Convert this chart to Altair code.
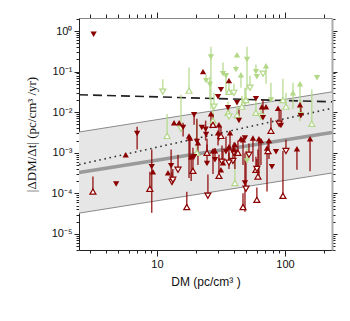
import altair as alt
import pandas as pd

# ---------------- data ----------------
red_dm = [3.2, 3.16, 4.8, 5.7, 7.0, 9.1, 9.3, 8.8, 12.2, 13.1,
          12.9, 14.6, 13.6, 14.9, 16.0, 19.5, 22.9, 18.1, 20.5, 24.0,
          26.4, 30.0, 24.6, 36.5, 31.6, 30.0, 42.2, 59.3, 131, 66.1,
          71.1, 88.2, 133, 93.0, 90.0, 17.8, 20.9, 24.6, 19.1, 30.5,
          27.4, 28.4, 31.6, 37.2, 40.6, 42.9, 39.2, 32.8, 17.1, 25.0,
          13.3, 47.0, 48.7, 49.6, 60.3, 61.5, 96.4, 72.4, 79.1, 67.3,
          77.7, 56.2, 62.6, 64.9, 75.0, 73.7, 101.8, 124, 157, 85.1,
          47.0, 45.3, 59.3, 52.3, 43.7, 30.5, 27.4, 35.9, 36.5, 39.9,
          34.6, 32.2, 36.5, 39.9, 31.6, 60.3, 18.5, 19.5, 28.4, 48.7,
          22.4, 24.2]
red_rate = [0.83, 1.1e-4, 1.7e-4, 8.9e-4, 3.0e-3, 4.5e-4, 3.4e-4, 1.3e-4, 3.2e-4, 1.9e-4,
            4.8e-4, 3.8e-4, 5.5e-3, 5.5e-3, 4.2e-3, 8.7e-3, 0.10, 2.3e-3, 1.9e-3, 3.8e-3,
            9.2e-3, 3.1e-3, 1.0e-3, 0.06, 0.036, 0.024, 0.017, 0.0216, 0.0153, 0.0137,
            0.0137, 0.0125, 0.0082, 0.0047, 0.0052, 2.6e-3, 1.77e-3, 5.4e-4, 3.6e-4, 2.7e-4,
            1.12e-3, 1.12e-3, 2.6e-3, 3.1e-3, 1.6e-3, 1.0e-3, 6.3e-4, 5.7e-4, 4.6e-5, 8.7e-5,
            2.15e-4, 4.6e-5, 1.8e-4, 1.3e-4, 6.9e-5, 2.6e-4, 8.7e-5, 1.3e-3, 4.5e-4, 7.3e-3,
            3.5e-3, 2.3e-3, 2.2e-3, 2.0e-3, 2.0e-3, 1.1e-3, 1.1e-3, 1.26e-3, 2.2e-3, 1.06e-3,
            2.1e-3, 2.2e-3, 3.8e-4, 8.9e-4, 6.2e-3, 4.9e-3, 4.9e-3, 0.0129, 1.4e-3, 1.19e-3,
            1.06e-3, 6.0e-4, 5.7e-4, 1.0e-3, 3.8e-4, 4.0e-4, 8.0e-4, 8.0e-4, 6.7e-4, 2.3e-3,
            4.2e-3, 2.8e-3]
red_lo = [None, 1.1e-4, None, None, 1.2e-3, 3.3e-5, None, 1.3e-4, None, 1.9e-4,
          2.4e-4, 3.8e-4, None, None, 2.5e-3, 4.9e-3, None, 6.7e-4, 1.9e-3, 2.0e-3,
          4.0e-3, 1.5e-3, 1.0e-3, None, None, None, None, None, None, None,
          None, None, 0.0082, 0.0047, 0.0052, 2.4e-4, 5e-4, 5.4e-4, 3.6e-4, 2.7e-4,
          3e-4, None, 2.6e-3, 1.2e-3, 4e-4, 1.0e-3, 6.3e-4, 5.7e-4, 4.6e-5, 8.7e-5,
          2.15e-4, 4.6e-5, 3.5e-5, 1.3e-4, 6.9e-5, 2.6e-4, 8.7e-5, 1.1e-4, None, 7.3e-3,
          3.5e-3, 6e-4, 2.4e-4, 5e-4, 7e-4, 1.1e-3, 1.1e-3, 3.8e-4, 3.5e-4, None,
          5e-4, None, 3.8e-4, 8.9e-4, 6.2e-3, 2e-3, 4.9e-3, None, 4e-4, None,
          1.06e-3, 6.0e-4, 5.7e-4, 1.0e-3, None, 4.0e-4, 2e-4, None, 6.7e-4, None,
          None, None]
red_hi = [None, 2.6e-4, None, None, 4.4e-3, 1.2e-3, None, 3.4e-4, None, 3.4e-4,
          1.2e-3, 8.9e-4, None, None, 5.5e-3, 8.7e-3, None, 2.3e-3, 6.9e-3, 6.2e-3,
          9.2e-3, 3.1e-3, 2.2e-3, None, None, None, None, None, None, None,
          None, None, 0.013, 0.0115, 0.0115, 2.6e-3, 1.77e-3, 1.6e-3, 1.33e-3, 9e-4,
          1.12e-3, None, 4.6e-3, 3.1e-3, 1.6e-3, 2.0e-3, 1.6e-3, 1.1e-3, 1.09e-4, 2.9e-4,
          4.0e-4, 1.0e-4, 1.0e-3, 6.7e-4, 1.4e-4, 1.2e-3, 1.1e-3, 1.3e-3, None, 0.02,
          7.3e-3, 2.3e-3, 2.2e-3, 2.0e-3, 2.0e-3, 2.0e-3, 2.1e-3, 1.26e-3, 2.2e-3, None,
          2.1e-3, None, 8e-4, 1.7e-3, 0.0125, 4.9e-3, 9e-3, None, 1.4e-3, None,
          2.5e-3, 1.5e-3, 1.0e-3, 1.8e-3, None, 7e-4, 8e-4, None, 1.3e-3, None,
          None, None]
# U = filled up, D = filled down, u = open up, d = open down
red_kind = ["D", "u", "D", "U", "D", "D", "U", "u", "U", "d",
            "D", "d", "U", "U", "D", "D", "U", "U", "D", "D",
            "U", "U", "u", "U", "D", "D", "D", "D", "U", "U",
            "U", "U", "D", "D", "d", "U", "U", "D", "u", "u",
            "U", "U", "u", "U", "U", "u", "d", "U", "u", "d",
            "d", "u", "D", "d", "u", "u", "u", "U", "D", "D",
            "u", "U", "U", "U", "U", "u", "d", "U", "U", "D",
            "U", "U", "u", "d", "D", "U", "u", "D", "U", "U",
            "D", "d", "d", "d", "U", "d", "U", "D", "D", "D",
            "D", "D"]

green_dm = [11.1, 12.0, 17.8, 24.2, 26.4, 25.9, 15.4, 20.5, 42.2, 32.8,
            34.6, 45.3, 41.4, 50.5, 59.3, 60.3, 67.3, 71.1, 53.3, 48.7,
            49.6, 77.7, 96.4, 101.8, 115.5, 131, 178, 162, 36.5, 39.9,
            27.9, 46.1, 59.3, 64.9, 35.9, 36.5, 40.6, 50.5, 27.4, 133,
            42.2]
green_rate = [0.032, 0.0026, 0.034, 0.06, 0.23, 0.048, 0.0039, 0.001, 0.26, 0.089,
              0.079, 0.084, 0.112, 0.2, 0.1, 0.075, 0.089, 0.14, 0.04, 0.018,
              0.02, 0.02, 0.02, 0.0137, 0.03, 0.05, 0.071, 0.0052, 0.032, 0.03,
              0.0137, 0.0137, 0.0097, 0.0078, 0.0097, 0.0078, 1.8e-4, 6.3e-4, 0.0062, 0.0087,
              0.0085]
green_lo = [0.032, 0.0026, 0.034, 0.06, 0.012, 0.02, 0.0039, 0.001, None, 0.089,
            0.03, 0.04, 0.112, 0.036, 0.1, None, None, 0.05, 0.04, 0.018,
            0.02, 0.02, 0.02, 0.0137, 0.012, 0.006, 0.071, 0.0052, 0.032, 0.03,
            0.0137, 0.0137, 0.0097, 0.0078, 0.0097, 0.0078, 1.8e-4, 6.3e-4, 0.0062, 0.0087,
            0.0085]
green_hi = [0.065, 0.009, 0.126, 0.085, 0.41, 0.075, 0.027, 0.0065, None, 0.167,
            0.079, 0.084, 0.14, 0.41, 0.15, None, None, 0.14, 0.079, 0.04,
            0.04, 0.053, 0.067, 0.03, 0.053, 0.05, 0.084, 0.036, 0.06, 0.05,
            0.03, 0.025, 0.02, 0.015, 0.018, 0.012, 1.6e-3, 1.3e-3, 0.016, 0.02,
            0.014]
green_kind = ["d", "u", "u", "D", "D", "D", "d", "u", "U", "D",
              "D", "U", "D", "D", "D", "D", "d", "U", "d", "d",
              "u", "D", "u", "u", "U", "U", "D", "u", "u", "d",
              "d", "u", "u", "d", "u", "d", "u", "D", "u", "D",
              "u"]

# model lines
line_dm = [2.46, 233]
band_mid = [3.24e-4, 3.17e-3]
band_lo = [3.24e-5, 3.17e-4]
band_hi = [3.24e-3, 3.17e-2]
dash_rate = [0.027, 0.018]
dot_rate = [5.1e-4, 0.0125]

# ---------------- tables ----------------
def make(dm, rate, lo, hi, kind, grp):
    d = pd.DataFrame({"dm": dm, "rate": rate, "lo": lo, "hi": hi, "kind": kind})
    d["grp"] = grp
    return d

pts = pd.concat([make(green_dm, green_rate, green_lo, green_hi, green_kind, "green"),
                 make(red_dm, red_rate, red_lo, red_hi, red_kind, "red")],
                ignore_index=True)
pts["lo"] = pts["lo"].fillna(pts["rate"])
pts["hi"] = pts["hi"].fillna(pts["rate"])
pts["dir"] = pts["kind"].str.upper()
pts["order"] = range(len(pts))
bars = pts[pts["lo"] < pts["hi"]]
filled = pts[pts["kind"].isin(["U", "D"])]
opened = pts[pts["kind"].isin(["u", "d"])]

lines = pd.DataFrame({"dm": line_dm, "mid": band_mid, "lo": band_lo, "hi": band_hi,
                      "dash": dash_rate, "dot": dot_rate})
edges = pd.concat([pd.DataFrame({"dm": line_dm, "v": band_lo, "e": "lo"}),
                   pd.DataFrame({"dm": line_dm, "v": band_hi, "e": "hi"})])

# ---------------- scales / axes ----------------
xs = alt.Scale(type="log", domain=[2.46, 233], nice=False)
ys = alt.Scale(type="log", domain=[4e-6, 2.1], nice=False)
col = alt.Scale(domain=["red", "green"], range=["#8b0000", "#b2d888"])
shp = alt.Scale(domain=["U", "D"], range=["triangle-up", "triangle-down"])

x_ticks = [3, 4, 5, 6, 7, 8, 9, 10, 20, 30, 40, 50, 60, 70, 80, 90, 100, 200]
y_ticks = [m * 10.0 ** k for k in range(-6, 1) for m in range(1, 10)
           if 3.99e-6 <= m * 10.0 ** k <= 2.1]

x_major = "datum.value == 10 || datum.value == 100"
y_major = "abs(log(datum.value)/LN10 - round(log(datum.value)/LN10)) < 0.01"
y_lab = ("abs(log(datum.value)/LN10 - round(log(datum.value)/LN10)) < 0.01 ? "
         "'10' + ['⁰','⁻¹','⁻²','⁻³','⁻⁴','⁻⁵','⁻⁶'][-round(log(datum.value)/LN10)] : ''")

common = dict(grid=False, tickColor="#222", tickWidth=1, labelOverlap=False,
              labelFlush=False, labelFont="Liberation Sans", labelFontSize=11,
              labelColor="#111")

x_bottom = alt.Axis(orient="bottom", values=x_ticks, domainColor="#222",
                    labelExpr=f"{x_major} ? datum.label : ''",
                    tickSize={"condition": {"test": x_major, "value": 6}, "value": 3},
                    labelPadding=2, title="DM (pc/cm³ )", titleFont="Liberation Sans",
                    titleFontSize=12, titleFontWeight="normal", titleColor="#111",
                    titlePadding=7, **common)
y_left = alt.Axis(orient="left", values=y_ticks, domainColor="#222",
                  labelExpr=y_lab,
                  tickSize={"condition": {"test": y_major, "value": 5}, "value": 3},
                  labelPadding=2, title="|ΔDM/Δt| (pc/cm³ /yr)",
                  titleFont="Liberation Serif", titleFontSize=13,
                  titleFontWeight="normal", titleColor="#111", titlePadding=13, **common)
x_top = alt.Axis(orient="top", values=x_ticks, labels=False, title=None,
                 domainColor="#888",
                 tickSize={"condition": {"test": x_major, "value": 6}, "value": 4},
                 **common)
y_right = alt.Axis(orient="right", values=y_ticks, labels=False, title=None,
                   domainColor="#aaa", domainWidth=2,
                   tickSize={"condition": {"test": y_major, "value": 5}, "value": 3},
                   **common)

# ---------------- layers ----------------
band = alt.Chart(lines).mark_area(color="#e6e6e6", opacity=1).encode(
    x=alt.X("dm:Q", scale=xs, axis=x_bottom),
    y=alt.Y("lo:Q", scale=ys, axis=y_left),
    y2="hi:Q")

band_edges = alt.Chart(edges).mark_line(color="#8a8a8a", strokeWidth=1).encode(
    x=alt.X("dm:Q", scale=xs, axis=None),
    y=alt.Y("v:Q", scale=ys, axis=None),
    detail="e:N")

mid = alt.Chart(lines).mark_line(color="#9a9a9a", strokeWidth=3.5).encode(
    x=alt.X("dm:Q", scale=xs, axis=None),
    y=alt.Y("mid:Q", scale=ys, axis=None))

dashed = alt.Chart(lines).mark_line(color="#222", strokeWidth=1.6,
                                    strokeDash=[9, 5]).encode(
    x=alt.X("dm:Q", scale=xs, axis=x_top),
    y=alt.Y("dash:Q", scale=ys, axis=y_right))

dotted = alt.Chart(lines).mark_line(color="#333", strokeWidth=1.6,
                                    strokeDash=[1.6, 3.6]).encode(
    x=alt.X("dm:Q", scale=xs, axis=None),
    y=alt.Y("dot:Q", scale=ys, axis=None))

errs = alt.Chart(bars).mark_rule(strokeWidth=1.5, opacity=0.8).encode(
    x=alt.X("dm:Q", scale=xs, axis=None),
    y=alt.Y("lo:Q", scale=ys, axis=None),
    y2="hi:Q",
    color=alt.Color("grp:N", scale=col, legend=None))

pts_open = alt.Chart(opened).mark_point(filled=False, fill="white", fillOpacity=1,
                                        strokeWidth=1.2, size=36, opacity=1).encode(
    x=alt.X("dm:Q", scale=xs, axis=None),
    y=alt.Y("rate:Q", scale=ys, axis=None),
    shape=alt.Shape("dir:N", scale=shp, legend=None),
    color=alt.Color("grp:N", scale=col, legend=None),
    order="order:Q")

pts_fill = alt.Chart(filled).mark_point(filled=True, size=40, opacity=1).encode(
    x=alt.X("dm:Q", scale=xs, axis=None),
    y=alt.Y("rate:Q", scale=ys, axis=None),
    shape=alt.Shape("dir:N", scale=shp, legend=None),
    color=alt.Color("grp:N", scale=col, legend=None),
    order="order:Q")

chart = alt.layer(band, band_edges, mid, dashed, dotted, errs, pts_open, pts_fill).resolve_axis(
    x="independent", y="independent"
).properties(
    width=253, height=232,
    autosize=alt.AutoSizeParams(type="none"),
    padding={"left": 71, "top": 10, "right": 10, "bottom": 60},
    background="white",
).configure_view(stroke=None)

chart.save("out.html", embed_options={"renderer": "svg", "actions": False})
